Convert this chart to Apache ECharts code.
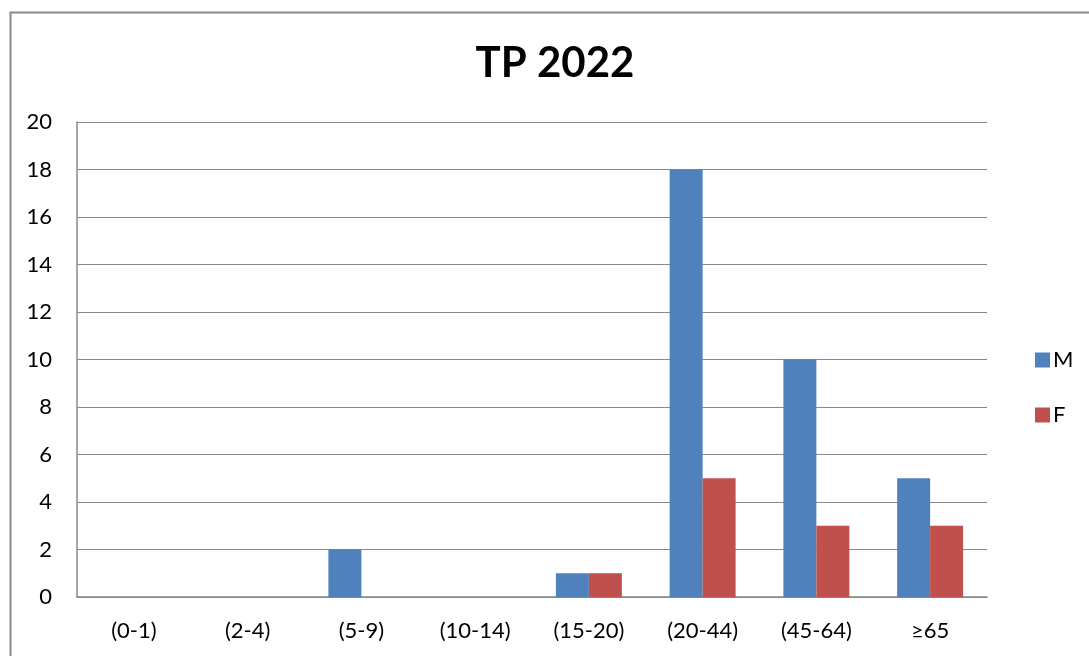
<!DOCTYPE html>
<html><head><meta charset="utf-8">
<script src="https://cdn.jsdelivr.net/npm/echarts@6/dist/echarts.min.js"></script>
<style>html,body{margin:0;padding:0;background:#fff}#c{width:1089px;height:656px}</style>
</head><body><div id="c"></div>
<script>
const categories = ['(0-1)', '(2-4)', '(5-9)', '(10-14)', '(15-20)', '(20-44)', '(45-64)', '≥65'];
const seriesM = [0, 0, 2, 0, 1, 18, 10, 5];
const seriesF = [0, 0, 0, 0, 1, 5, 3, 3];
const yTicks = [0, 2, 4, 6, 8, 10, 12, 14, 16, 18, 20];

const font = 'Lato, "Open Sans", sans-serif';
const chart = echarts.init(document.getElementById('c'));
chart.setOption({
  animation: false,
  graphic: [{
    type: 'rect', left: 8, top: 10,
    shape: { x: 0, y: 0, width: 1100, height: 700 },
    style: { fill: 'none', stroke: '#888', lineWidth: 2 }, silent: true
  }],
  title: {
    text: 'TP 2022', left: 550, top: 37, textAlign: 'center',
    textStyle: { fontFamily: font, fontWeight: 'bold', fontSize: 42, color: '#000' }
  },
  legend: {
    orient: 'vertical', left: 1030, top: 344, itemWidth: 15, itemHeight: 15, itemGap: 33,
    icon: 'rect',
    textStyle: { fontFamily: font, fontSize: 22, color: '#000', padding: [0, 0, 0, -2] },
    data: ['M', 'F']
  },
  grid: { left: 77, right: 102, top: 122, bottom: 59, containLabel: false },
  xAxis: {
    type: 'category', data: categories,
    axisLine: { show: true, lineStyle: { color: '#888', width: 1.5 } },
    axisTick: { show: false },
    axisLabel: { fontFamily: font, fontSize: 22, color: '#000', margin: 23 }
  },
  yAxis: {
    type: 'value', min: yTicks[0], max: yTicks[yTicks.length - 1], interval: 2,
    axisLine: { show: true, lineStyle: { color: '#888', width: 1.5 } },
    axisTick: { show: false },
    splitLine: { lineStyle: { color: '#888', width: 1.2 } },
    axisLabel: { fontFamily: font, fontSize: 22, color: '#000', margin: 25 }
  },
  series: [
    { name: 'M', type: 'bar', data: seriesM, barGap: '0%', barCategoryGap: '42%',
      itemStyle: { color: '#4F81BD' } },
    { name: 'F', type: 'bar', data: seriesF, barGap: '0%', barCategoryGap: '42%',
      itemStyle: { color: '#C0504D' } }
  ]
});
</script></body></html>
